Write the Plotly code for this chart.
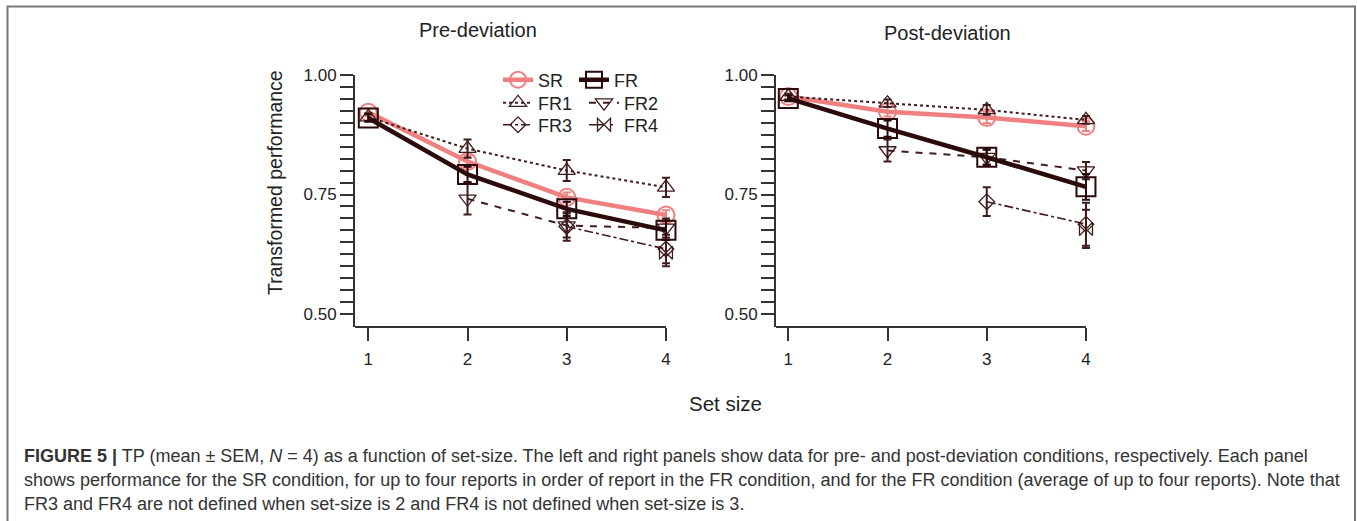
import plotly.graph_objects as go

W, H = 1357, 521

# ---------------- data ----------------
set_size = [1, 2, 3, 4]
tick_x = [1, 2, 3, 4]
y_tickvals = [0.5, 0.525, 0.55, 0.575, 0.6, 0.625, 0.65, 0.675, 0.7, 0.725,
              0.75, 0.775, 0.8, 0.825, 0.85, 0.875, 0.9, 0.925, 0.95, 0.975, 1.0]
y_ticktext = ["0.50", "", "", "", "", "", "", "", "", "",
              "0.75", "", "", "", "", "", "", "", "", "", "1.00"]

pre_SR = [0.922, 0.819, 0.744, 0.707]
pre_SR_err = [0.008, 0.012, 0.010, 0.010]
pre_FR = [0.910, 0.792, 0.720, 0.675]
pre_FR_err = [0.008, 0.016, 0.015, 0.020]
pre_FR1 = [0.912, 0.846, 0.800, 0.765]
pre_FR1_err = [0.008, 0.019, 0.022, 0.020]
pre_FR2 = [None, 0.741, 0.685, 0.680]
pre_FR2_err = [0, 0.033, 0.025, 0.020]
pre_FR3 = [None, None, 0.683, 0.636]
pre_FR3_err = [0, 0, 0.030, 0.030]
pre_FR4 = [None, None, None, 0.628]
pre_FR4_err = [0, 0, 0, 0.028]

post_SR = [0.955, 0.923, 0.911, 0.893]
post_SR_err = [0.006, 0.010, 0.012, 0.010]
post_FR = [0.951, 0.888, 0.828, 0.766]
post_FR_err = [0.006, 0.017, 0.017, 0.027]
post_FR1 = [0.955, 0.941, 0.927, 0.906]
post_FR1_err = [0.006, 0.008, 0.010, 0.008]
post_FR2 = [None, 0.842, 0.828, 0.800]
post_FR2_err = [0, 0.023, 0.015, 0.018]
post_FR3 = [None, None, 0.735, 0.688]
post_FR3_err = [0, 0, 0.030, 0.045]
post_FR4 = [None, None, None, 0.678]
post_FR4_err = [0, 0, 0, 0.040]

caption_lines = [
    "<b>FIGURE 5 |</b> TP (mean ± SEM, <i>N</i> = 4) as a function of set-size. The left and right panels show data for pre- and post-deviation conditions, respectively. Each panel",
    "shows performance for the SR condition, for up to four reports in order of report in the FR condition, and for the FR condition (average of up to four reports). Note that",
    "FR3 and FR4 are not defined when set-size is 2 and FR4 is not defined when set-size is 3.",
]

# ---------------- style ----------------
FONT = "Liberation Sans, Arial, Helvetica, sans-serif"
PINK = "#f07f7f"
DARK = "#2a0a0a"
BROWN = "#401c1c"
AX = "#333333"


def px(x):
    return x / W


def py(y):
    return 1 - y / H


series = [
    # name, color, width, dash, symbol, size, legend
    ("SR", PINK, 4.5, "solid", "circle-open", 17, "legend"),
    ("FR1", BROWN, 2, "dot", "triangle-up-open", 15, "legend2"),
    ("FR2", BROWN, 2, "7px,7px", "triangle-down-open", 15, "legend2"),
    ("FR3", BROWN, 1.6, "dashdot", "diamond-open", 12, "legend3"),
    ("FR4", BROWN, 1.6, "longdashdot", "bowtie-open", 13, "legend3"),
    ("FR", DARK, 4.5, "solid", "square-open", 19, "legend"),
]
pre = {"SR": (pre_SR, pre_SR_err), "FR": (pre_FR, pre_FR_err), "FR1": (pre_FR1, pre_FR1_err),
       "FR2": (pre_FR2, pre_FR2_err), "FR3": (pre_FR3, pre_FR3_err), "FR4": (pre_FR4, pre_FR4_err)}
post = {"SR": (post_SR, post_SR_err), "FR": (post_FR, post_FR_err), "FR1": (post_FR1, post_FR1_err),
        "FR2": (post_FR2, post_FR2_err), "FR3": (post_FR3, post_FR3_err), "FR4": (post_FR4, post_FR4_err)}

fig = go.Figure()
for panel, data, xa, ya in [(0, pre, "x", "y"), (1, post, "x2", "y2")]:
    for name, col, lw, dash, sym, size, leg in series:
        vals, errs = data[name]
        fig.add_trace(go.Scatter(
            x=set_size, y=vals, name=name, mode="lines+markers",
            xaxis=xa, yaxis=ya, cliponaxis=False, connectgaps=False,
            line=dict(color=col, width=lw, dash=dash),
            marker=dict(symbol=sym, size=size, color=col,
                        line=dict(color=col, width=2 if name in ("SR", "FR") else 1.3)),
            error_y=dict(type="data", array=errs, visible=True, color=col,
                         thickness=2, width=4),
            showlegend=(panel == 0), legend=leg,
        ))

axis_common = dict(showgrid=False, zeroline=False, ticks="outside", ticklen=13,
                   tickwidth=2, tickcolor=AX, automargin=False,
                   tickfont=dict(family=FONT, size=17, color="#222"))

ydom = [py(327), py(75)]
leg_common = dict(orientation="h", xanchor="left", yanchor="middle",
                  bgcolor="rgba(0,0,0,0)", font=dict(family=FONT, size=18, color="#222"))
fig.update_layout(
    width=W, height=H, margin=dict(l=0, r=0, t=0, b=0, autoexpand=False),
    paper_bgcolor="white", plot_bgcolor="white",
    font=dict(family=FONT, color="#222"),
    xaxis=dict(domain=[px(355), px(700)], range=[0.866, 4.343], anchor="y",
               tickvals=tick_x, showline=False, ticklabelstandoff=4, **axis_common),
    yaxis=dict(domain=ydom, range=[0.4728, 1.0], anchor="x",
               tickvals=y_tickvals, ticktext=y_ticktext, showline=True,
               linewidth=2, linecolor=AX, **axis_common),
    xaxis2=dict(domain=[px(776), px(1120)], range=[0.876, 4.343], anchor="y2",
                tickvals=tick_x, showline=False, ticklabelstandoff=4, **axis_common),
    yaxis2=dict(domain=ydom, range=[0.4728, 1.0], anchor="x2",
                tickvals=y_tickvals, ticktext=y_ticktext, showline=True,
                linewidth=2, linecolor=AX, **axis_common),
    legend=dict(x=px(498), y=py(80), entrywidth=31, **leg_common),
    legend2=dict(x=px(498), y=py(103), entrywidth=41, **leg_common),
    legend3=dict(x=px(498), y=py(125), entrywidth=41, **leg_common),
)

# x-axis lines (end at set size 4)
for xr, x0, yr in [("x", 0.866, "y domain"), ("x2", 0.876, "y2 domain")]:
    fig.add_shape(type="line", xref=xr, yref=yr, x0=x0, x1=4, y0=0, y1=0,
                  line=dict(color=AX, width=2))

# outer border
fig.add_shape(type="path", xref="paper", yref="paper",
              path=f"M {px(7.5)},{py(540)} L {px(7.5)},{py(6.5)} L {px(1355)},{py(6.5)} L {px(1355)},{py(540)}",
              line=dict(color="#777777", width=2))

T = dict(xref="paper", yref="paper", showarrow=False, xanchor="center", yanchor="middle")
ann = [
    dict(text="Pre-deviation", x=px(478), y=py(30),
         font=dict(family=FONT, size=20, color="#222"), **T),
    dict(text="Post-deviation", x=px(947), y=py(33),
         font=dict(family=FONT, size=20, color="#222"), **T),
    dict(text="Transformed performance", x=px(275), y=py(183), textangle=-90,
         font=dict(family=FONT, size=19.5, color="#222"), **T),
    dict(text="Set size", x=px(725), y=py(403),
         font=dict(family=FONT, size=20.5, color="#222"), **T),
]
for i, line in enumerate(caption_lines):
    ann.append(dict(text=line, x=px(22), y=py(456 + 24 * i), xref="paper", yref="paper",
                    xanchor="left", yanchor="middle", showarrow=False, align="left",
                    font=dict(family=FONT, size=18, color="#333")))
fig.update_layout(annotations=ann)

fig.write_html("out.html")
